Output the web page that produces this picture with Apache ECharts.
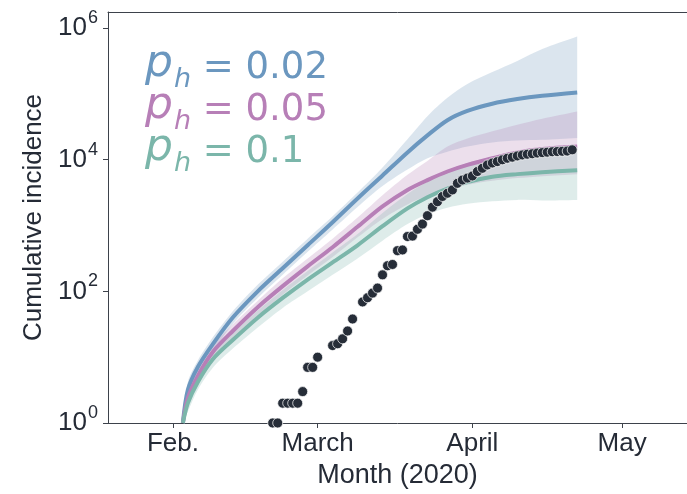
<!DOCTYPE html>
<html>
<head>
<meta charset="utf-8">
<title>Cumulative incidence</title>
<script src="https://cdn.jsdelivr.net/npm/echarts@6/dist/echarts.min.js"></script>
<style>
html, body { margin: 0; padding: 0; background: #fff; }
#chart { width: 687px; height: 494px; }
</style>
</head>
<body>
<div id="chart"></div>
<script>
var modelDates = ['2020-02-03', '2020-02-04', '2020-02-06', '2020-02-09', '2020-02-13', '2020-02-18',
  '2020-02-23', '2020-02-28', '2020-03-04', '2020-03-09', '2020-03-14', '2020-03-19', '2020-03-23',
  '2020-03-27', '2020-03-31', '2020-04-05', '2020-04-10', '2020-04-15', '2020-04-22'];

// p_h = 0.02 : median, lower and upper edge of the band
var medA = [1, 3.2, 7.1, 15.8, 40, 100, 224, 501, 1120, 2570, 5750, 12900, 23400, 39800, 55000, 70800, 83200, 93300, 104700];
var loA  = [1, 2.6, 5.6, 12, 32, 79, 178, 398, 871, 1910, 3980, 7080, 10500, 13200, 15800, 18200, 19500, 20000, 21400];
var hiA  = [1.1, 4.2, 8.9, 20, 50, 126, 282, 631, 1380, 3160, 7590, 20400, 45700, 87100, 141000, 214000, 316000, 479000, 741000];
// p_h = 0.05
var medB = [1, 2.4, 5.2, 12, 25, 57.5, 120, 240, 468, 955, 1950, 3470, 4900, 6610, 8320, 10500, 12900, 14500, 15800];
var loB  = [1, 1.8, 4, 9.1, 19, 42.7, 89, 174, 331, 661, 1260, 2090, 2820, 3550, 4170, 4790, 5250, 5620, 6030];
var hiB  = [1.1, 3.2, 6.9, 15.1, 31.6, 72, 158, 316, 631, 1320, 2880, 5890, 9550, 15800, 20900, 26900, 33900, 41700, 53700];
// p_h = 0.1
var medC = [1, 2.0, 4.2, 9.3, 18.2, 39.8, 79.4, 151, 275, 501, 977, 1820, 2690, 3630, 4570, 5500, 6030, 6460, 6920];
var loC  = [1, 1.5, 3.2, 6.9, 13.5, 28.2, 56, 100, 178, 316, 589, 1050, 1480, 1860, 2140, 2340, 2450, 2400, 2450];
var hiC  = [1.1, 2.5, 5.2, 11.7, 22.9, 51, 105, 204, 389, 741, 1550, 3020, 4680, 6760, 8910, 11000, 12300, 13200, 14500];

// observed cumulative cases
var obsDates = ['2020-02-21', '2020-02-22', '2020-02-23', '2020-02-24', '2020-02-25', '2020-02-26', '2020-02-27',
  '2020-02-28', '2020-02-29', '2020-03-01', '2020-03-04', '2020-03-05', '2020-03-06', '2020-03-07', '2020-03-08',
  '2020-03-10', '2020-03-11', '2020-03-12', '2020-03-13', '2020-03-14', '2020-03-15', '2020-03-16', '2020-03-17',
  '2020-03-18', '2020-03-19', '2020-03-20', '2020-03-21', '2020-03-22', '2020-03-23', '2020-03-24', '2020-03-25',
  '2020-03-26', '2020-03-27', '2020-03-28', '2020-03-29', '2020-03-30', '2020-03-31', '2020-04-01', '2020-04-02',
  '2020-04-03', '2020-04-04', '2020-04-05', '2020-04-06', '2020-04-07', '2020-04-08', '2020-04-09', '2020-04-10',
  '2020-04-11', '2020-04-12', '2020-04-13', '2020-04-14', '2020-04-15', '2020-04-16', '2020-04-17', '2020-04-18',
  '2020-04-19', '2020-04-20', '2020-04-21'];
var obsCases = [1, 1, 2, 2, 2, 2, 3, 7, 7, 10, 15, 16, 19, 25, 38,
  69, 80, 94, 112, 178, 245, 256, 415, 425, 680, 690, 876, 1050, 1410, 1900, 2300,
  2760, 3090, 3470, 4370, 4900, 5250, 5650, 6600, 7400, 8300, 8900, 9350, 9950, 10500, 10900, 11400,
  11800, 12100, 12300, 12600, 12800, 13000, 13200, 13300, 13400, 13500, 14100];

var xRange = ['2020-01-19', '2020-05-14'];
var monthTicks = ['2020-02-01', '2020-03-01', '2020-04-01', '2020-05-01'];
var monthLabels = ['Feb.', 'March', 'April', 'May'];
var yTicks = [1, 100, 10000, 1000000];

var phValues = ['0.02', '0.05', '0.1'];
var lineColors = ['#6b97bf', '#b77fb7', '#7bb6aa'];
var bandColors = ['rgba(110,152,189,0.25)', 'rgba(181,127,181,0.25)', 'rgba(123,181,170,0.25)'];

var ink = '#252b36';
var font = 'Liberation Sans';

function ms(s) { return +echarts.time.parse(s); }
function pairs(dates, vals) {
  return dates.map(function (d, i) { return [ms(d), vals[i]]; });
}

// shaded band between lo and hi, drawn as one smoothed polygon
function band(lo, hi, color) {
  return {
    type: 'custom', z: 1, silent: true,
    encode: { x: 0, y: [1, 2] },
    data: modelDates.map(function (d, i) { return [ms(d), lo[i], hi[i]]; }),
    renderItem: function (params, api) {
      if (params.dataIndex !== 0) return null;
      var top = [], bottom = [];
      for (var i = 0; i < modelDates.length; i++) {
        var x = ms(modelDates[i]);
        top.push(api.coord([x, hi[i]]));
        bottom.push(api.coord([x, lo[i]]));
      }
      var n = top.length;
      var pts = [top[0]].concat(top, [top[n - 1], bottom[n - 1]], bottom.slice().reverse(), [bottom[0]]);
      var mn = [Infinity, Infinity], mx = [-Infinity, -Infinity];
      pts.forEach(function (p) {
        mn[0] = Math.min(mn[0], p[0]); mn[1] = Math.min(mn[1], p[1]);
        mx[0] = Math.max(mx[0], p[0]); mx[1] = Math.max(mx[1], p[1]);
      });
      return {
        type: 'polygon',
        shape: { points: pts, smooth: 0.3, smoothConstraint: [mn, mx] },
        style: { fill: color }
      };
    }
  };
}
function median(vals, color) {
  return {
    type: 'line', data: pairs(modelDates, vals), symbol: 'none', smooth: 0.3,
    lineStyle: { width: 4, color: color }, z: 3
  };
}

var tickNums = monthTicks.map(ms);

var series = [
  band(loA, hiA, bandColors[0]),
  band(loB, hiB, bandColors[1]),
  band(loC, hiC, bandColors[2]),
  median(medA, lineColors[0]),
  median(medB, lineColors[1]),
  median(medC, lineColors[2]),
  {
    type: 'scatter', data: pairs(obsDates, obsCases), symbolSize: 10,
    itemStyle: { color: '#262d38', borderColor: '#ffffff', borderWidth: 0.7, opacity: 1 }, z: 5
  }
];

var legendText = phValues.map(function (v, i) {
  return {
    type: 'text', left: 145, top: 43 + i * 42,
    style: {
      text: '{p|p}{h|h}{r| = ' + v + '}',
      rich: {
        p: { fontFamily: 'DejaVu Sans', fontStyle: 'italic', fontSize: 44, lineHeight: 44, fill: lineColors[i], verticalAlign: 'bottom', padding: [0, 0, 6, 0] },
        h: { fontFamily: 'DejaVu Sans', fontStyle: 'italic', fontSize: 27, lineHeight: 27, fill: lineColors[i], verticalAlign: 'bottom', padding: [0, 0, 0, 1] },
        r: { fontFamily: 'DejaVu Sans', fontSize: 37, lineHeight: 37, fill: lineColors[i], verticalAlign: 'bottom', padding: [0, 0, 6, 0] }
      }
    },
    z: 10
  };
});

var chart = echarts.init(document.getElementById('chart'));
var option = {
  animation: false,
  textStyle: { fontFamily: font },
  grid: { left: 108, right: 0, top: 12, bottom: 71 },
  xAxis: [{
    type: 'value', min: ms(xRange[0]), max: ms(xRange[1]),
    name: 'Month (2020)', nameLocation: 'middle', nameGap: 36,
    nameTextStyle: { fontSize: 27, color: ink, fontFamily: font },
    axisLine: { lineStyle: { color: '#3d424b', width: 1 } },
    axisTick: { customValues: tickNums, length: 5, lineStyle: { color: '#3d424b' } },
    axisLabel: {
      customValues: tickNums, fontSize: 26, color: ink, margin: 8, fontFamily: font,
      formatter: function (val) {
        var i = tickNums.indexOf(val);
        return i >= 0 ? monthLabels[i] : '';
      }
    },
    splitLine: { show: false }
  }, {
    type: 'value', position: 'top', min: ms(xRange[0]), max: ms(xRange[1]),
    axisLine: { show: true, lineStyle: { color: '#3d424b', width: 1 } },
    axisTick: { show: false }, axisLabel: { show: false }, splitLine: { show: false }
  }],
  yAxis: {
    type: 'log', logBase: 10, min: 1, max: 1750000,
    name: 'Cumulative incidence', nameLocation: 'middle', nameGap: 61,
    nameTextStyle: { fontSize: 26, color: ink, fontFamily: font },
    axisLine: { show: true, lineStyle: { color: '#3d424b', width: 1 } },
    axisTick: { show: true, customValues: yTicks, length: 5, lineStyle: { color: '#3d424b' } },
    axisLabel: {
      customValues: yTicks, margin: 10, color: ink,
      formatter: function (val) {
        return '{b|10}{s|' + Math.round(Math.log10(val)) + '}';
      },
      rich: {
        b: { fontSize: 26, lineHeight: 26, fontFamily: font, color: ink, verticalAlign: 'bottom' },
        s: { fontSize: 18, lineHeight: 18, fontFamily: font, color: ink, verticalAlign: 'bottom', padding: [0, 0, 14, 1] }
      }
    },
    splitLine: { show: false }
  },
  graphic: legendText,
  series: series
};
chart.setOption(option);
</script>
</body>
</html>
